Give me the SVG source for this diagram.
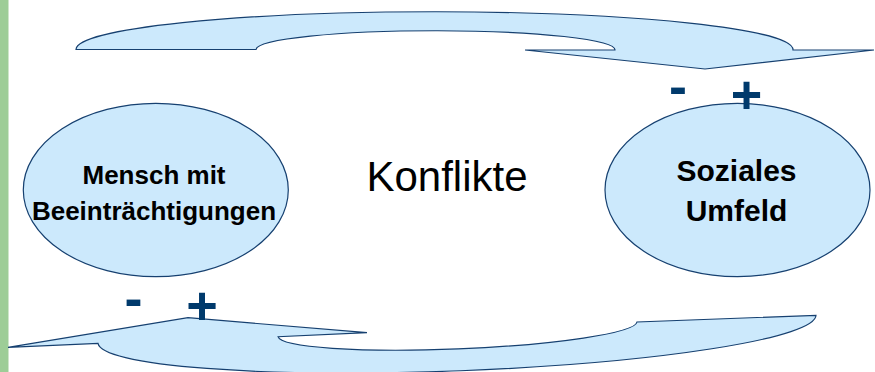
<svg xmlns="http://www.w3.org/2000/svg" width="875" height="372" viewBox="0 0 875 372">
  <style>
    .shape { fill: #cce9fc; stroke: #164070; stroke-width: 1.2; }
    .lbl { font-family: "Liberation Sans", Arial, sans-serif; font-weight: bold; fill: #000; text-anchor: middle; }
    .sign { font-family: "Liberation Sans", Arial, sans-serif; font-weight: bold; fill: #003a6c; text-anchor: middle; font-size: 54px; }
  </style>
  <rect x="0" y="0" width="8.5" height="372" fill="#9dcd97"/>
  <g id="connectors">
    <path id="arrow-top" class="shape" d="M76,49.5 A358.5,38 0 0 1 793,50 L874,50 L705,69 L525,50 L615,50 A179.5,19 0 0 0 256,49.5 Z"/>
    <path id="arrow-bottom" class="shape" d="M8,347.3 L188,317.7 L367,332.7 L278,336.7 A179.7,20 -2.35 0 0 637,322 L816,315.3 A359.3,42 -2.2 0 1 98,343.3 Z"/>
  </g>
  <g id="node-mensch">
    <ellipse class="shape" cx="155.8" cy="190" rx="132.5" ry="86.7" stroke-width="1"/>
    <text class="lbl" x="154" y="184" font-size="26">Mensch mit</text>
    <text class="lbl" x="154" y="220" font-size="26">Beeinträchtigungen</text>
  </g>
  <g id="node-umfeld">
    <ellipse class="shape" cx="737.5" cy="190" rx="132.5" ry="86.7" stroke-width="1"/>
    <text class="lbl" x="736.5" y="180.5" font-size="30">Soziales</text>
    <text class="lbl" x="736.5" y="220.5" font-size="30">Umfeld</text>
  </g>
  <g id="label-konflikte">
    <text x="447" y="191" font-family="'Liberation Sans', Arial, sans-serif" font-size="42" text-anchor="middle" fill="#000">Konflikte</text>
  </g>
  <g id="signs">
    <text class="sign" x="678" y="105">-</text>
    <text class="sign" x="746.5" y="112.5">+</text>
    <text class="sign" x="133.5" y="316.5">-</text>
    <text class="sign" x="202" y="324.3">+</text>
  </g>
</svg>
